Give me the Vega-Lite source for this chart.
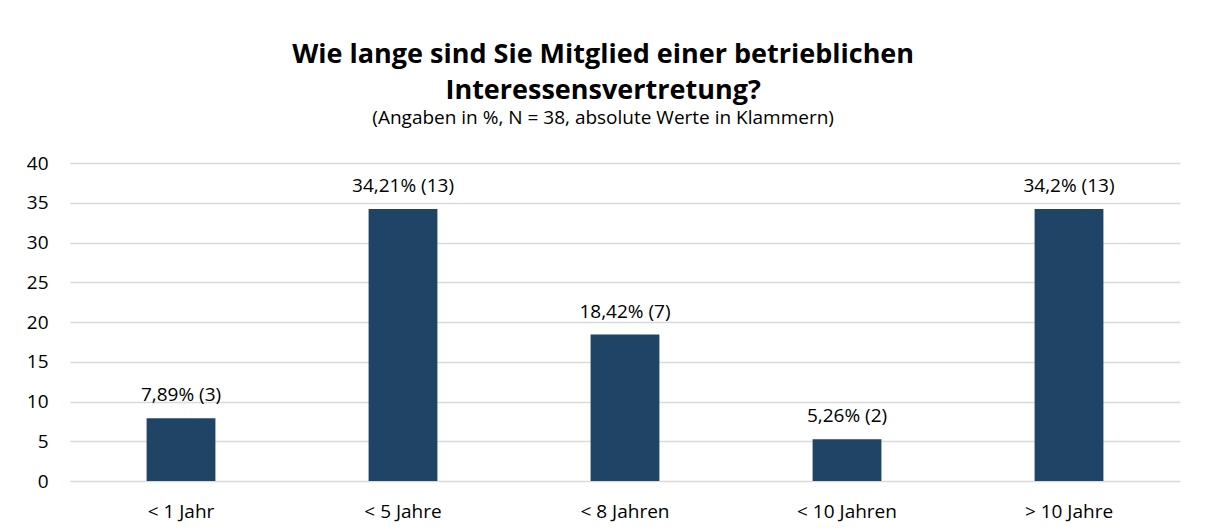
{
  "$schema": "https://vega.github.io/schema/vega-lite/v6.json",
  "autosize": {"type": "none"},
  "padding": {"left": 70, "top": 163, "right": 26, "bottom": 51},
  "width": 1110,
  "height": 318,
  "background": "white",
  "title": {
    "text": ["Wie lange sind Sie Mitglied einer betrieblichen", "Interessensvertretung?"],
    "subtitle": "(Angaben in %, N = 38, absolute Werte in Klammern)",
    "anchor": "middle",
    "frame": "bounds",
    "font": "Open Sans",
    "fontSize": 27,
    "fontWeight": "bold",
    "lineHeight": 36,
    "color": "#000000",
    "subtitleFont": "Open Sans",
    "subtitleFontSize": 19,
    "subtitleColor": "#000000",
    "subtitlePadding": 4,
    "offset": 25
  },
  "data": {
    "values": [
      {"kategorie": "< 1 Jahr", "wert": 7.89, "label": "7,89% (3)"},
      {"kategorie": "< 5 Jahre", "wert": 34.21, "label": "34,21% (13)"},
      {"kategorie": "< 8 Jahren", "wert": 18.42, "label": "18,42% (7)"},
      {"kategorie": "< 10 Jahren", "wert": 5.26, "label": "5,26% (2)"},
      {"kategorie": "> 10 Jahre", "wert": 34.2, "label": "34,2% (13)"}
    ]
  },
  "encoding": {
    "x": {
      "field": "kategorie",
      "type": "nominal",
      "sort": null,
      "scale": {"paddingInner": 0, "paddingOuter": 0},
      "axis": {
        "title": null,
        "labelAngle": 0,
        "domain": false,
        "ticks": false,
        "labelFont": "Open Sans",
        "labelFontSize": 19,
        "labelColor": "#000000",
        "labelPadding": 21
      }
    },
    "y": {
      "field": "wert",
      "type": "quantitative",
      "scale": {"domain": [0, 40]},
      "axis": {
        "title": null,
        "values": [0, 5, 10, 15, 20, 25, 30, 35, 40],
        "domain": false,
        "ticks": false,
        "labelFont": "Open Sans",
        "labelFontSize": 19,
        "labelColor": "#000000",
        "labelPadding": 22,
        "gridColor": "#d9d9d9",
        "gridWidth": 1.5
      }
    }
  },
  "layer": [
    {
      "mark": {"type": "bar", "color": "#1f4466", "width": {"band": 0.31}}
    },
    {
      "mark": {"type": "text", "baseline": "bottom", "dy": -13, "font": "Open Sans", "fontSize": 19, "color": "#000000"},
      "encoding": {"text": {"field": "label"}}
    }
  ],
  "config": {"view": {"stroke": null}}
}
